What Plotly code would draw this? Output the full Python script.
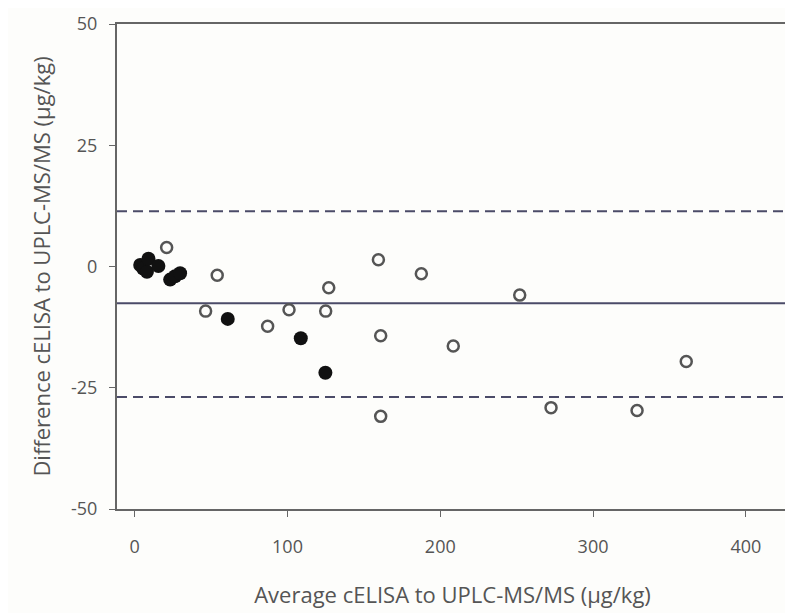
import plotly.graph_objects as go

# Open circles
open_x = [20.9, 54.0, 46.4, 87.0, 101.0, 127.0, 125.0, 159.5, 161.0, 161.0, 187.6, 208.5, 252.0, 272.5, 328.8, 361.0]
open_y = [3.9, -1.8, -9.2, -12.3, -8.9, -4.4, -9.2, 1.4, -14.3, -30.9, -1.5, -16.4, -5.9, -29.1, -29.7, -19.6]

# Filled circles
filled_x = [3.6, 5.5, 8.0, 9.0, 15.5, 23.2, 26.4, 29.7, 60.9, 108.7, 124.8]
filled_y = [0.3, -0.4, -1.1, 1.6, 0.1, -2.7, -2.0, -1.4, -10.8, -14.8, -21.9]

mean_diff = -7.6
upper_loa = 11.4
lower_loa = -26.9

x_range = [-11.6, 427.6]
y_range = [-50, 50]
x_ticks = [0, 100, 200, 300, 400]
x_ticktext = ["0", "100", "200", "300", "400"]
y_ticks = [-50, -25, 0, 25, 50]
y_ticktext = ["-50", "-25", "0", "25", "50"]

line_col = "#4b4b68"
text_col = "#555555"

fig = go.Figure()
for yv, dash in [(upper_loa, "dash"), (mean_diff, "solid"), (lower_loa, "dash")]:
    fig.add_trace(go.Scatter(x=x_range, y=[yv, yv], mode="lines",
                             line=dict(color=line_col, width=2, dash="10px,6px" if dash == "dash" else "solid"),
                             hoverinfo="skip", showlegend=False))

fig.add_trace(go.Scatter(x=open_x, y=open_y, mode="markers",
                         marker=dict(symbol="circle-open", size=11, color="#555555", line=dict(width=2.5, color="#555555")),
                         showlegend=False))
fig.add_trace(go.Scatter(x=filled_x, y=filled_y, mode="markers",
                         marker=dict(symbol="circle", size=14, color="#111111"),
                         showlegend=False))

fig.update_layout(
    width=785, height=605,
    margin=dict(l=109, r=3, t=15, b=104),
    paper_bgcolor="#fdfdfb", plot_bgcolor="#fdfdfb",
    font=dict(family="Open Sans, Liberation Sans, sans-serif", color=text_col, size=18),
    showlegend=False,
)
fig.update_xaxes(range=x_range, tickvals=x_ticks, ticktext=x_ticktext, ticks="outside", ticklen=6, tickcolor="#666",
                 showline=True, linecolor="#666", linewidth=2, mirror=True, showgrid=False, zeroline=False,
                 tickfont=dict(size=18, color=text_col), ticklabelstandoff=14,
                 title=dict(text="Average cELISA to UPLC-MS/MS (µg/kg)", font=dict(size=22, color=text_col), standoff=31))
fig.update_yaxes(range=y_range, tickvals=y_ticks, ticktext=y_ticktext, ticks="outside", ticklen=6, tickcolor="#666",
                 showline=True, linecolor="#666", linewidth=2, mirror=True, showgrid=False, zeroline=False,
                 tickfont=dict(size=18, color=text_col), ticklabelstandoff=8,
                 title=dict(text="Difference cELISA to UPLC-MS/MS (µg/kg)", font=dict(size=22, color=text_col), standoff=14))

fig.write_html("out.html")
